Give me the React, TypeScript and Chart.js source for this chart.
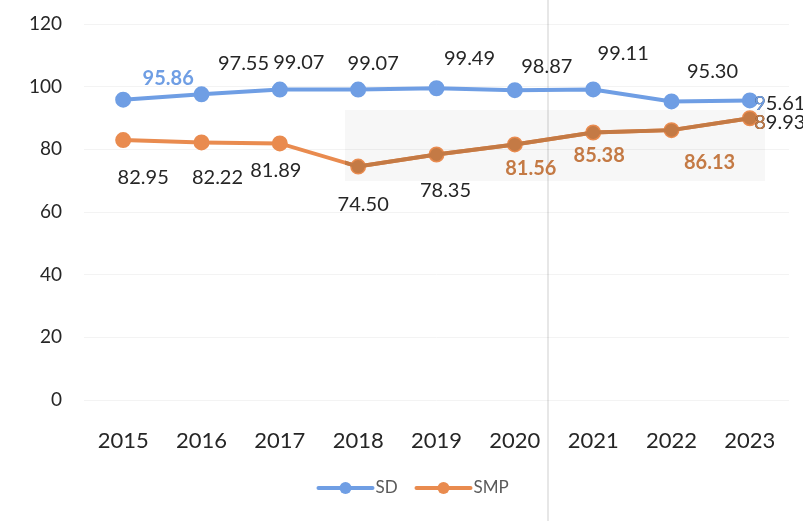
import React, { useEffect, useRef } from "react";
import { Chart, registerables } from "chart.js";

Chart.register(...registerables);

const years = ["2015", "2016", "2017", "2018", "2019", "2020", "2021", "2022", "2023"];
const sdValues = [95.86, 97.55, 99.07, 99.07, 99.49, 98.87, 99.11, 95.3, 95.61];
const smpValues = [82.95, 82.22, 81.89, 74.5, 78.35, 81.56, 85.38, 86.13, 89.93];
const yTicks = [0, 20, 40, 60, 80, 100, 120];

const SD_COLOR = "#6f9ee4";
const SMP_COLOR = "#c47a45";
const SMP_LIGHT = "#e98b4f";
const TEXT = "#262626";

// label offsets (pixels from point) and colours
const sdLabelOffsets = [[45, -21], [42, -31], [19, -27], [15, -26], [33, -30], [32, -24], [30, -36], [41, -30], [30, 3]];
const sdLabelColors = [SD_COLOR, TEXT, TEXT, TEXT, TEXT, TEXT, TEXT, TEXT, TEXT];
const smpLabelOffsets = [[20, 37], [16, 35], [-4, 27], [5, 38], [9, 36], [16, 24], [6, 23], [38, 32], [30, 4]];
const smpLabelColors = [TEXT, TEXT, TEXT, TEXT, TEXT, SMP_COLOR, SMP_COLOR, SMP_COLOR, TEXT];

// faint scan artefacts in the reference: shaded band and vertical rule
const BAND = { x0: 345, y0: 110, x1: 765, y1: 181 };
const RULE_X = 548;
const TINT_EDGE_X = 767;

const FONT = "Lato, 'Open Sans', sans-serif";

const backdropPlugin = {
  id: "backdrop",
  beforeDatasetsDraw(chart: any) {
    const ctx = chart.ctx;
    ctx.save();
    ctx.fillStyle = "rgba(0,0,0,0.03)";
    ctx.fillRect(BAND.x0, BAND.y0, BAND.x1 - BAND.x0, BAND.y1 - BAND.y0);
    ctx.strokeStyle = "rgba(0,0,0,0.13)";
    ctx.lineWidth = 1.5;
    ctx.beginPath();
    ctx.moveTo(RULE_X, 0);
    ctx.lineTo(RULE_X, chart.height);
    ctx.stroke();
    ctx.restore();
  },
  afterDatasetsDraw(chart: any) {
    // SMP line appears darker inside the shaded band
    const ctx = chart.ctx;
    const meta = chart.getDatasetMeta(1);
    ctx.save();
    ctx.beginPath();
    ctx.rect(BAND.x0, BAND.y0, BAND.x1 - BAND.x0, BAND.y1 - BAND.y0);
    ctx.clip();
    ctx.strokeStyle = SMP_COLOR;
    ctx.fillStyle = SMP_COLOR;
    ctx.lineWidth = 4;
    ctx.beginPath();
    meta.data.forEach((p: any, i: number) => {
      if (i === 0) ctx.moveTo(p.x, p.y);
      else ctx.lineTo(p.x, p.y);
    });
    ctx.stroke();
    meta.data.forEach((p: any) => {
      ctx.beginPath();
      ctx.arc(p.x, p.y, 6.5, 0, Math.PI * 2);
      ctx.fill();
    });
    ctx.restore();
  },
};

const labelPlugin = {
  id: "valueLabels",
  afterDatasetsDraw(chart: any) {
    const ctx = chart.ctx;
    ctx.save();
    ctx.textAlign = "center";
    ctx.textBaseline = "middle";
    const sets = [
      { idx: 0, vals: sdValues, offs: sdLabelOffsets, cols: sdLabelColors, tint: SD_COLOR },
      { idx: 1, vals: smpValues, offs: smpLabelOffsets, cols: smpLabelColors, tint: SMP_COLOR },
    ];
    sets.forEach((s) => {
      const meta = chart.getDatasetMeta(s.idx);
      meta.data.forEach((pt: any, i: number) => {
        const [dx, dy] = s.offs[i];
        const colored = s.cols[i] !== TEXT;
        const txt = s.vals[i].toFixed(2);
        ctx.font = (colored ? "bold " : "") + "20px " + FONT;
        ctx.fillStyle = s.cols[i];
        ctx.fillText(txt, pt.x + dx, pt.y + dy);
        if (i === meta.data.length - 1) {
          // first glyph of the last labels is tinted in the reference
          ctx.save();
          ctx.beginPath();
          ctx.rect(0, 0, TINT_EDGE_X, chart.height);
          ctx.clip();
          ctx.fillStyle = s.tint;
          ctx.fillText(txt, pt.x + dx, pt.y + dy);
          ctx.restore();
        }
      });
    });
    ctx.restore();
  },
};

const legendPlugin = {
  id: "customLegend",
  afterDraw(chart: any) {
    const ctx = chart.ctx;
    const cx = chart.width / 2;
    const y = 488;
    const items = [
      { label: "SD", color: SD_COLOR, x: cx - 83 },
      { label: "SMP", color: SMP_LIGHT, x: cx + 15 },
    ];
    ctx.save();
    ctx.font = "17px " + FONT;
    ctx.textBaseline = "middle";
    items.forEach((it) => {
      ctx.strokeStyle = it.color;
      ctx.lineWidth = 4;
      ctx.lineCap = "round";
      ctx.beginPath();
      ctx.moveTo(it.x, y);
      ctx.lineTo(it.x + 54, y);
      ctx.stroke();
      ctx.fillStyle = it.color;
      ctx.beginPath();
      ctx.arc(it.x + 27, y, 6, 0, Math.PI * 2);
      ctx.fill();
      ctx.fillStyle = "#595959";
      ctx.fillText(it.label, it.x + 57, y);
    });
    ctx.restore();
  },
};

export default function App() {
  const ref = useRef<HTMLCanvasElement>(null);
  useEffect(() => {
    document.body.style.margin = "0";
    const chart = new Chart(ref.current!, {
      type: "line",
      data: {
        labels: years,
        datasets: [
          {
            label: "SD",
            data: sdValues,
            borderColor: SD_COLOR,
            backgroundColor: SD_COLOR,
            borderWidth: 4,
            pointRadius: 6,
            pointHoverRadius: 6,
          },
          {
            label: "SMP",
            data: smpValues,
            borderColor: SMP_LIGHT,
            backgroundColor: SMP_LIGHT,
            borderWidth: 4,
            pointRadius: 6,
            pointHoverRadius: 6,
          },
        ],
      },
      options: {
        animation: false,
        responsive: false,
        layout: { autoPadding: false, padding: { top: 24, right: 14, left: 0, bottom: 0 } },
        plugins: { legend: { display: false }, tooltip: { enabled: false } },
        scales: {
          x: {
            offset: true,
            grid: { display: false },
            border: { display: false },
            ticks: { color: TEXT, font: { family: FONT, size: 22 }, padding: 20 },
            afterFit: (s: any) => {
              s.height = 121;
            },
          },
          y: {
            min: 0,
            max: 120,
            afterBuildTicks: (s: any) => {
              s.ticks = yTicks.map((v) => ({ value: v }));
            },
            grid: { color: "#f3f3f3", drawTicks: false },
            border: { display: false },
            ticks: { color: TEXT, font: { family: FONT, size: 19 }, padding: 22 },
            afterFit: (s: any) => {
              s.width = 84;
              s.paddingTop = 0;
              s.paddingBottom = 0;
            },
          },
        },
      },
      plugins: [backdropPlugin, labelPlugin, legendPlugin],
    });
    return () => chart.destroy();
  }, []);
  return (
    <div style={{ width: 803, height: 521, background: "#fff" }}>
      <canvas ref={ref} width={803} height={521} />
    </div>
  );
}
